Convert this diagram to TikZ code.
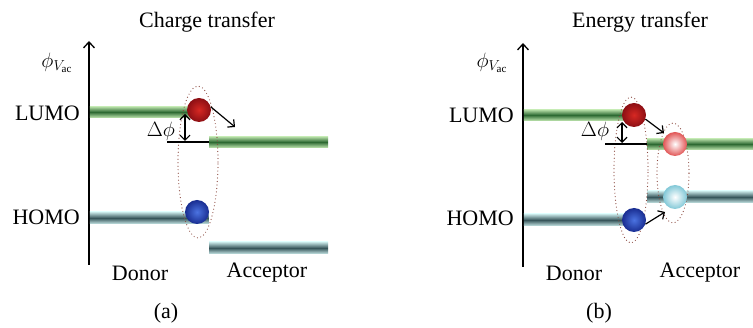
\documentclass[tikz,border=0pt]{standalone}
\usepackage{fontspec}
\setmainfont{Liberation Serif}
\usetikzlibrary{arrows.meta,shapes.geometric}
\definecolor{gdark}{RGB}{45,105,50}
\definecolor{glight}{RGB}{185,225,170}
\definecolor{tdark}{RGB}{55,85,90}
\definecolor{tlight}{RGB}{200,232,232}
\definecolor{dotc}{RGB}{140,75,65}
\definecolor{rin}{RGB}{215,40,35}
\definecolor{rout}{RGB}{140,15,20}
\definecolor{bin}{RGB}{75,115,225}
\definecolor{bout}{RGB}{25,45,145}
\definecolor{pout}{RGB}{225,85,85}
\definecolor{cout}{RGB}{130,200,215}
\tikzset{
  lbl/.style={font=\fontsize{22}{26}\selectfont, inner sep=0pt},
  gbar/.style={rectangle, inner sep=0pt, minimum height=11pt, top color=glight, bottom color=glight, middle color=gdark},
  tbar/.style={rectangle, inner sep=0pt, minimum height=12pt, top color=tlight, bottom color=tlight, middle color=tdark},
  redball/.style={circle, inner sep=0pt, minimum size=24pt, inner color=rin, outer color=rout},
  blueball/.style={circle, inner sep=0pt, minimum size=24pt, inner color=bin, outer color=bout},
  pinkball/.style={circle, inner sep=0pt, minimum size=24pt, inner color=white, outer color=pout},
  cyanball/.style={circle, inner sep=0pt, minimum size=24pt, inner color=white, outer color=cout},
  axis/.style={line width=1.3pt, -{Straight Barb[length=6pt,width=11pt]}},
  arr/.style={line width=1.2pt, -{Straight Barb[length=5pt,width=10pt]}},
  darr/.style={line width=1.2pt, {Straight Barb[length=5pt,width=10pt]}-{Straight Barb[length=5pt,width=10pt]}},
  thin/.style={line width=1.1pt},
  dots/.style={draw=dotc, line width=1.2pt, line cap=round, dash pattern=on 0pt off 3.5pt, ellipse, inner sep=0pt},
}
\begin{document}
\begin{tikzpicture}[x=1pt,y=-1pt]
\useasboundingbox (0,0) rectangle (753,328);
% ---------- panel (a) ----------
\node[lbl] (ta) at (207,22) {Charge transfer};
\coordinate (axa0) at (89,265);
\coordinate (axa1) at (89,41);
\draw[axis] (axa0) -- (axa1);
\node[lbl] (phia) at (57,63) {$\phi_{V_{\mathrm{ac}}}$};
\node[lbl, anchor=east] (lumoa) at (80,113) {LUMO};
\node[lbl, anchor=east] (homoa) at (80,217) {HOMO};
\node[gbar, minimum width=101pt, anchor=west] (dLa) at (89.6,112) {};
\node[gbar, minimum width=119pt, anchor=west] (aLa) at (209,142) {};
\node[tbar, minimum width=119pt, anchor=west] (dHa) at (89.6,218) {};
\node[tbar, minimum width=119pt, anchor=west] (aHa) at (209,248) {};
\node[dots, minimum width=40pt, minimum height=152pt] (ela) at (198,162) {};
\node[redball] (ra) at (199,110) {};
\node[blueball] (ba) at (197,212) {};
\coordinate (arra) at (235,127);
\draw[arr] (ra.15) -- (arra);
\coordinate (hla0) at (167,142);
\draw[thin] (hla0) -- (aLa.west);
\coordinate (dpa0) at (185,114);
\coordinate (dpa1) at (185,141);
\draw[darr] (dpa0) -- (dpa1);
\node[lbl] (dphia) at (161,131) {$\Delta\phi$};
\node[lbl] (dona) at (140,273) {Donor};
\node[lbl] (acca) at (267,273) {Acceptor};
\node[lbl] (capa) at (166,313) {(a)};
% ---------- panel (b) ----------
\node[lbl] (tb) at (640,22) {Energy transfer};
\coordinate (axb0) at (523,267);
\coordinate (axb1) at (523,43);
\draw[axis] (axb0) -- (axb1);
\node[lbl] (phib) at (492,63) {$\phi_{V_{\mathrm{ac}}}$};
\node[lbl, anchor=east] (lumob) at (514,115) {LUMO};
\node[lbl, anchor=east] (homob) at (514,218) {HOMO};
\node[gbar, minimum width=101pt, anchor=west] (dLb) at (523.6,115) {};
\node[gbar, minimum width=106pt, anchor=west] (aLb) at (647,144) {};
\node[tbar, minimum width=101pt, anchor=west] (dHb) at (523.6,220) {};
\node[tbar, minimum width=106pt, anchor=west] (aHb) at (647,197) {};
\node[dots, minimum width=34pt, minimum height=146pt] (elb1) at (631,170) {};
\node[dots, minimum width=32pt, minimum height=100pt] (elb2) at (673,173) {};
\node[redball] (rb) at (634,115) {};
\node[pinkball] (pb) at (675,144) {};
\node[cyanball] (cb) at (675,197) {};
\node[blueball] (bb) at (634,220) {};
\coordinate (arrb1) at (664,133);
\draw[arr] (rb.-20) -- (arrb1);
\coordinate (arrb2) at (665,212);
\draw[arr] (bb.-20) -- (arrb2);
\coordinate (hlb0) at (605,144);
\draw[thin] (hlb0) -- (aLb.west);
\coordinate (dpb0) at (622,122);
\coordinate (dpb1) at (622,143);
\draw[darr] (dpb0) -- (dpb1);
\node[lbl] (dphib) at (595,131) {$\Delta\phi$};
\node[lbl] (donb) at (574,273) {Donor};
\node[lbl] (accb) at (700,273) {Acceptor};
\node[lbl] (capb) at (599,313) {(b)};
\end{tikzpicture}
\end{document}
